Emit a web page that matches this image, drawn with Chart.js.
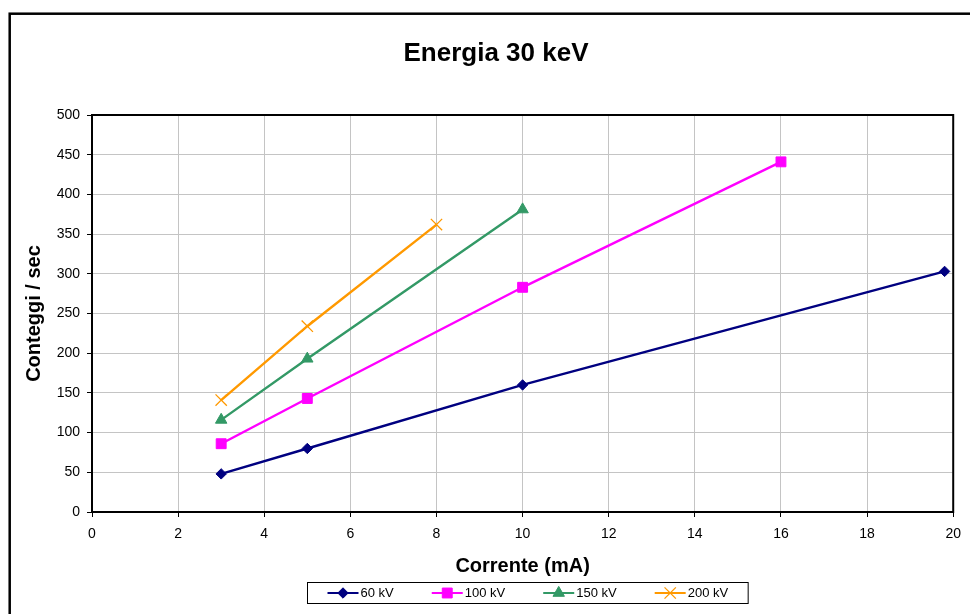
<!DOCTYPE html>
<html>
<head>
<meta charset="utf-8">
<title>Energia 30 keV</title>
<script src="https://cdn.jsdelivr.net/npm/chart.js@4/dist/chart.umd.min.js"></script>
<style>
  html, body { margin: 0; padding: 0; background: #ffffff; }
  #wrap { width: 970px; height: 614px; position: relative; }
</style>
</head>
<body>
<div id="wrap"><canvas id="chart" width="970" height="614"></canvas></div>
<script>
// Measured counting rate versus tube current, one series per tube voltage
const seriesLabels = ['60 kV', '100 kV', '150 kV', '200 kV'];

const current60 = [3, 5, 10, 19.8];
const counts60  = [48, 80, 160, 303];

const current100 = [3, 5, 10, 16];
const counts100  = [86, 143, 283, 441];

const current150 = [3, 5, 10];
const counts150  = [116, 193, 381];

const current200 = [3, 5, 8];
const counts200  = [141, 234, 362];

// Axis tick values
const xTickValues = [0, 2, 4, 6, 8, 10, 12, 14, 16, 18, 20];
const yTickValues = [0, 50, 100, 150, 200, 250, 300, 350, 400, 450, 500];

const FONT = "'Liberation Sans', Arial, Helvetica, sans-serif";

function toPoints(xs, ys) {
  return xs.map((x, i) => ({ x: x, y: ys[i] }));
}

const seriesStyles = [
  { color: '#000080', pointStyle: 'rectRot', radius: 5.2, pointBorderWidth: 1 },
  { color: '#FF00FF', pointStyle: 'rect', radius: 7, pointBorderWidth: 1 },
  { color: '#339966', pointStyle: 'triangle', radius: 6.6, pointBorderWidth: 1 },
  { color: '#FF9900', pointStyle: 'crossRot', radius: 8, pointBorderWidth: 1.3 }
];

const seriesPoints = [
  toPoints(current60, counts60),
  toPoints(current100, counts100),
  toPoints(current150, counts150),
  toPoints(current200, counts200)
];

const datasets = seriesPoints.map((pts, i) => {
  const s = seriesStyles[i];
  return {
    label: seriesLabels[i],
    data: pts,
    showLine: true,
    borderColor: s.color,
    backgroundColor: s.color,
    borderWidth: 2.4,
    tension: 0,
    pointStyle: s.pointStyle,
    pointRadius: s.radius,
    pointHoverRadius: s.radius,
    pointBackgroundColor: s.color,
    pointBorderColor: s.color,
    pointBorderWidth: s.pointBorderWidth
  };
});

// Outer chart frame and the black box around the plot area
const framePlugin = {
  id: 'frames',
  beforeDraw(chart) {
    const ctx = chart.ctx;
    ctx.save();
    ctx.fillStyle = '#ffffff';
    ctx.fillRect(0, 0, chart.width, chart.height);
    ctx.strokeStyle = '#000000';
    ctx.lineWidth = 2.5;
    ctx.strokeRect(9.7, 13.7, chart.width + 40, chart.height + 40);
    ctx.restore();
  },
  beforeDatasetsDraw(chart) {
    const a = chart.chartArea;
    const ctx = chart.ctx;
    ctx.save();
    ctx.strokeStyle = '#000000';
    ctx.lineWidth = 2;
    ctx.strokeRect(a.left, a.top, a.right - a.left, a.bottom - a.top);
    ctx.restore();
  }
};

// Boxed legend under the axis title: line sample with marker, then the label
const boxedLegend = {
  id: 'boxedLegend',
  afterDraw(chart) {
    const ctx = chart.ctx;
    const a = chart.chartArea;
    const sample = 31, textGap = 2, itemGap = 38, margin = 20;
    const fontSize = 13;
    ctx.save();
    ctx.font = fontSize + 'px ' + FONT;
    const items = chart.data.datasets.map(ds => ({
      ds: ds,
      w: sample + textGap + ctx.measureText(ds.label).width
    }));
    const content = items.reduce((s, it) => s + it.w, 0) + itemGap * (items.length - 1);
    const boxW = content + margin * 2;
    const boxH = 21;
    const cx = (a.left + a.right) / 2 + 5;
    const boxX = Math.round(cx - boxW / 2) + 0.5;
    const boxY = a.bottom + 70.5;
    ctx.strokeStyle = '#000000';
    ctx.lineWidth = 1;
    ctx.strokeRect(boxX, boxY, boxW, boxH);
    const midY = boxY + boxH / 2;
    let x = boxX + margin;
    items.forEach(it => {
      const ds = it.ds;
      ctx.strokeStyle = ds.borderColor;
      ctx.lineWidth = 2;
      ctx.beginPath();
      ctx.moveTo(x, midY);
      ctx.lineTo(x + sample, midY);
      ctx.stroke();
      ctx.fillStyle = ds.pointBackgroundColor;
      ctx.strokeStyle = ds.pointBorderColor;
      ctx.lineWidth = ds.pointBorderWidth;
      Chart.helpers.drawPoint(ctx, {
        pointStyle: ds.pointStyle,
        radius: ds.pointRadius,
        rotation: 0,
        borderWidth: ds.pointBorderWidth
      }, x + sample / 2, midY);
      ctx.fillStyle = '#000000';
      ctx.textBaseline = 'middle';
      ctx.textAlign = 'left';
      ctx.fillText(ds.label, x + sample + textGap, midY + 0.5);
      x += it.w + itemGap;
    });
    ctx.restore();
  }
};

new Chart(document.getElementById('chart'), {
  type: 'scatter',
  data: { datasets: datasets },
  options: {
    responsive: false,
    animation: false,
    devicePixelRatio: 1,
    layout: { padding: { left: 37, right: 15, top: 0, bottom: 36 } },
    plugins: {
      legend: { display: false },
      tooltip: { enabled: false },
      title: {
        display: true,
        text: 'Energia 30 keV',
        color: '#000000',
        font: { family: FONT, size: 26, weight: 'bold' },
        padding: { top: 38, bottom: 45.8 }
      }
    },
    scales: {
      x: {
        type: 'linear',
        min: 0,
        max: 20,
        afterBuildTicks(scale) { scale.ticks = xTickValues.map(v => ({ value: v })); },
        afterFit(scale) { scale.height = 66; },
        ticks: {
          color: '#000000',
          font: { family: FONT, size: 14 },
          padding: 9,
          maxRotation: 0
        },
        grid: { color: '#c4c4c4', lineWidth: 1, tickColor: '#000000', tickLength: 5 },
        border: { display: true, color: '#000000', width: 2 },
        title: {
          display: true,
          text: 'Corrente (mA)',
          color: '#000000',
          font: { family: FONT, size: 20, weight: 'bold' },
          padding: { top: 0, bottom: 0 }
        }
      },
      y: {
        type: 'linear',
        min: 0,
        max: 500,
        afterBuildTicks(scale) { scale.ticks = yTickValues.map(v => ({ value: v })); },
        afterFit(scale) { scale.width = 55; },
        ticks: {
          color: '#000000',
          font: { family: FONT, size: 14 },
          padding: 7
        },
        grid: { color: '#c4c4c4', lineWidth: 1, tickColor: '#000000', tickLength: 5 },
        border: { display: true, color: '#000000', width: 2 },
        title: {
          display: true,
          text: 'Conteggi / sec',
          color: '#000000',
          font: { family: FONT, size: 20, weight: 'bold' },
          padding: { top: -15, bottom: 0 }
        }
      }
    }
  },
  plugins: [framePlugin, boxedLegend]
});
</script>
</body>
</html>
